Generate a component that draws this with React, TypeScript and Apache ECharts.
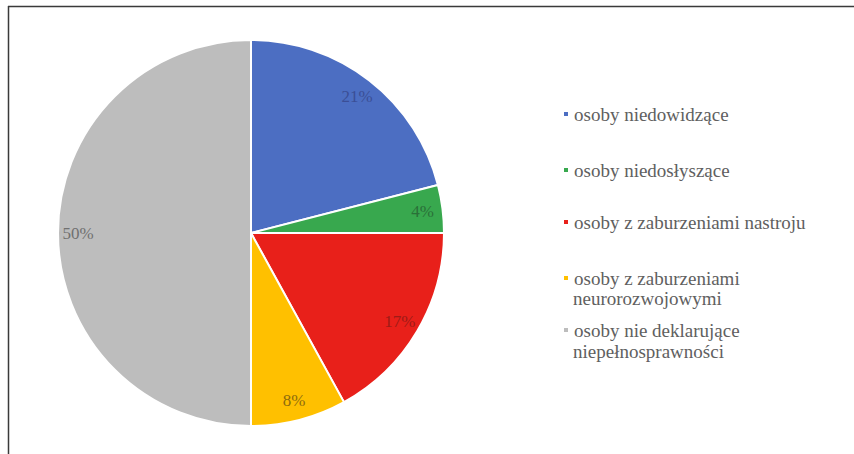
import React, { useEffect, useRef } from "react";
import * as echarts from "echarts";

const categories = [
  "osoby niedowidzące",
  "osoby niedosłyszące",
  "osoby z zaburzeniami nastroju",
  "osoby z zaburzeniami neurorozwojowymi",
  "osoby nie deklarujące niepełnosprawności",
];
const legendLines: string[][] = [
  ["osoby niedowidzące"],
  ["osoby niedosłyszące"],
  ["osoby z zaburzeniami nastroju"],
  ["osoby z zaburzeniami", "neurorozwojowymi"],
  ["osoby nie deklarujące", "niepełnosprawności"],
];
const values = [21, 4, 17, 8, 50];
const colors = ["#4C6EC2", "#38A84E", "#E8201A", "#FFC000", "#BDBDBD"];
const labelColors = ["#3B4E96", "#2A7038", "#9E1B16", "#8E6C0E", "#707070"];
const legendTops = [114, 170, 222, 278, 330];
const legendSecondLineY = [0, 0, 0, 298, 351];

const FONT = "Liberation Serif, DejaVu Serif, serif";

export default function App() {
  const ref = useRef<HTMLDivElement>(null);
  useEffect(() => {
    if (!ref.current) return;
    const chart = echarts.init(ref.current, undefined, { renderer: "svg" });
    const data = categories.map((name, i) => ({
      name,
      value: values[i],
      itemStyle: { color: colors[i] },
    }));
    const labelData = categories.map((name, i) => ({
      name,
      value: values[i],
      label: { color: labelColors[i] },
    }));
    const legends = categories.map((name, i) => ({
      data: [name],
      left: 562,
      top: legendTops[i] - 11,
      orient: "vertical" as const,
      padding: 0,
      itemWidth: 6,
      itemHeight: 6,
      icon: "rect",
      selectedMode: false,
      formatter: () => legendLines[i][0],
      textStyle: {
        fontFamily: FONT,
        fontSize: 19,
        color: "#606060",
        lineHeight: 22,
      },
    }));
    const secondLines = legendLines
      .map((lines, i) =>
        lines.length > 1
          ? {
              type: "text" as const,
              x: 573,
              y: legendSecondLineY[i],
              style: {
                text: lines[1],
                fontFamily: FONT,
                fontSize: 19,
                fill: "#606060",
                verticalAlign: "middle" as const,
                align: "left" as const,
              },
            }
          : null
      )
      .filter((x) => x !== null);
    chart.setOption({
      animation: false,
      backgroundColor: "#ffffff",
      legend: legends,
      graphic: [
        {
          type: "line",
          shape: { x1: 8, y1: 6.5, x2: 854, y2: 6.5 },
          style: { stroke: "#3a3a3a", lineWidth: 1.5 },
        },
        {
          type: "line",
          shape: { x1: 8.5, y1: 6, x2: 8.5, y2: 454 },
          style: { stroke: "#3a3a3a", lineWidth: 1.5 },
        },
        ...secondLines,
      ],
      series: [
        {
          type: "pie",
          center: [251, 233],
          radius: [0, 193],
          startAngle: 90,
          clockwise: true,
          data,
          label: { show: false },
          labelLine: { show: false },
          itemStyle: { borderColor: "#ffffff", borderWidth: 2 },
          emphasis: { disabled: true },
          silent: true,
        },
        {
          type: "pie",
          center: [251, 233],
          radius: [147, 193],
          startAngle: 90,
          clockwise: true,
          data: labelData,
          itemStyle: { color: "rgba(0,0,0,0)", borderWidth: 0 },
          label: {
            show: true,
            position: "inside",
            formatter: "{c}%",
            fontFamily: FONT,
            fontSize: 17,
          },
          labelLine: { show: false },
          emphasis: { disabled: true },
          silent: true,
        },
      ],
    });
    return () => chart.dispose();
  }, []);
  return (
    <div
      ref={ref}
      style={{ position: "fixed", left: 0, top: 0, width: 854, height: 454 }}
    />
  );
}
